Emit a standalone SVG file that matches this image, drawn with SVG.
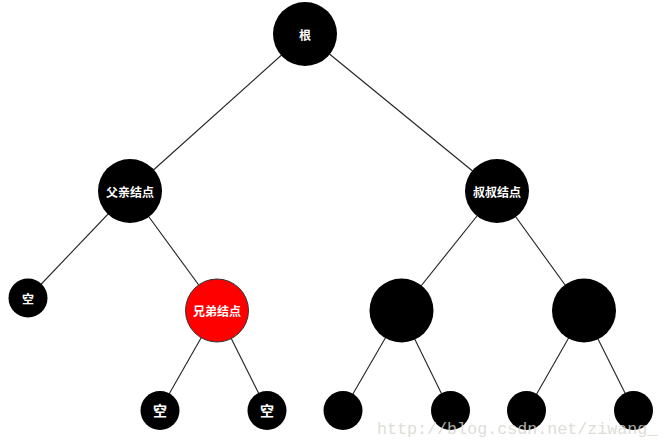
<svg xmlns="http://www.w3.org/2000/svg" width="669" height="446" viewBox="0 0 669 446">
<style>
.e{stroke:#222;stroke-width:1.1;fill:none}
.n{fill:#000}
.r{fill:#ff0000;stroke:#333;stroke-width:1}
.t{fill:#fff;font-family:"Noto Sans CJK SC",sans-serif;font-weight:bold;font-size:12px;text-anchor:middle;dominant-baseline:central}
.s{font-size:14px}
.w{fill:#d6d6ce;opacity:0.8;font-family:"Liberation Mono",monospace;font-size:16.7px}
</style>
<rect width="669" height="446" fill="#fff"/>
<g id="connectors">
<line class="e" x1="305" y1="34" x2="130" y2="191"/>
<line class="e" x1="305" y1="34" x2="497" y2="191"/>
<line class="e" x1="130" y1="191" x2="28" y2="298"/>
<line class="e" x1="130" y1="191" x2="217" y2="310"/>
<line class="e" x1="217" y1="310" x2="160" y2="410"/>
<line class="e" x1="217" y1="310" x2="267" y2="410"/>
<line class="e" x1="497" y1="191" x2="401" y2="311"/>
<line class="e" x1="497" y1="191" x2="584" y2="311"/>
<line class="e" x1="401" y1="311" x2="343" y2="411"/>
<line class="e" x1="401" y1="311" x2="450" y2="411"/>
<line class="e" x1="584" y1="311" x2="527" y2="411"/>
<line class="e" x1="584" y1="311" x2="634" y2="411"/>
</g>
<g id="root"><circle class="n" cx="305" cy="34" r="32"/><text class="t" x="305" y="34">根</text></g>
<g id="father"><circle class="n" cx="130" cy="191" r="32"/><text class="t" x="130" y="191">父亲结点</text></g>
<g id="uncle"><circle class="n" cx="497" cy="191" r="32"/><text class="t" x="497" y="191">叔叔结点</text></g>
<g id="null1"><circle class="n" cx="28" cy="298" r="19.5"/><text class="t" x="28" y="298">空</text></g>
<g id="sibling"><circle class="r" cx="217" cy="310.5" r="31.5"/><text class="t" x="217" y="310">兄弟结点</text></g>
<g id="null2"><circle class="n" cx="160" cy="410.5" r="19.5"/><text class="t s" x="160" y="410">空</text></g>
<g id="null3"><circle class="n" cx="267" cy="410.5" r="19.5"/><text class="t s" x="267" y="410">空</text></g>
<g id="uncleL"><circle class="n" cx="401.5" cy="310.5" r="32"/></g>
<g id="uncleR"><circle class="n" cx="584" cy="310.5" r="32"/></g>
<g id="leaf1"><circle class="n" cx="343" cy="410.5" r="19.5"/></g>
<g id="leaf2"><circle class="n" cx="450.5" cy="410.5" r="19.5"/></g>
<g id="leaf3"><circle class="n" cx="526.5" cy="410.5" r="19.5"/></g>
<g id="leaf4"><circle class="n" cx="633.5" cy="410.5" r="19.5"/></g>
<text class="w" x="377" y="434">http://blog.csdn.net/ziwang_</text>
</svg>
